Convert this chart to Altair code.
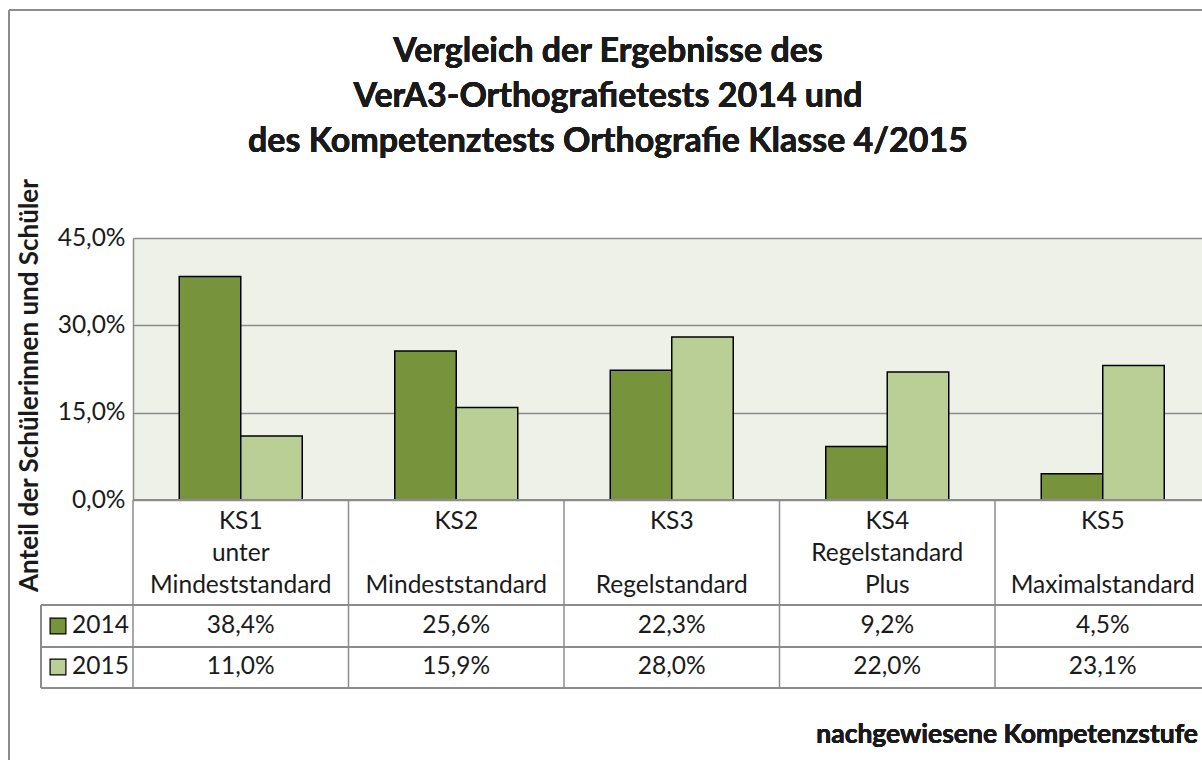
import altair as alt
import pandas as pd

categories = ["KS1", "KS2", "KS3", "KS4", "KS5"]
header_line1 = ["KS1", "KS2", "KS3", "KS4", "KS5"]
header_line2 = ["unter", "", "", "Regelstandard", ""]
header_line3 = ["Mindeststandard", "Mindeststandard", "Regelstandard", "Plus", "Maximalstandard"]
years = ["2014", "2015"]
values_2014 = [38.4, 25.6, 22.3, 9.2, 4.5]
values_2015 = [11.0, 15.9, 28.0, 22.0, 23.1]
colors = ["#77933C", "#BACF96"]

title_text = "Vergleich der Ergebnisse des\nVerA3-Orthografietests 2014 und\ndes Kompetenztests Orthografie Klasse 4/2015"
y_title = "Anteil der Schülerinnen und Schüler"
x_title = "nachgewiesene Kompetenzstufe"

rows = []
for c, v in zip(categories, values_2014):
    rows.append({"category": c, "year": "2014", "value": v})
for c, v in zip(categories, values_2015):
    rows.append({"category": c, "year": "2015", "value": v})
df = pd.DataFrame(rows)
df["label"] = df["value"].map(lambda v: f"{v:.1f}".replace(".", ",") + "%")
cats_df = pd.DataFrame({"category": categories, "l1": header_line1, "l2": header_line2, "l3": header_line3})
years_df = pd.DataFrame({"year": years})

FONT = "Lato"
GRAY = "#8c8c8c"
TXT = "#1a1a1a"
PW, PH = 1069, 262
XR = 1077.5
FS = 24.5

xscale = alt.Scale(domain=categories, range=[0, XR], paddingInner=0, paddingOuter=0)
X = alt.X("category:N", scale=xscale, axis=None)
cscale = alt.Scale(domain=years, range=colors)

bars = alt.Chart(df).mark_bar(stroke="black", strokeWidth=1.5).encode(
    x=X,
    xOffset=alt.XOffset("year:N", scale=alt.Scale(domain=years, paddingInner=0, paddingOuter=0.752)),
    y=alt.Y(
        "value:Q",
        scale=alt.Scale(domain=[0, 45]),
        axis=alt.Axis(
            values=[0, 15, 30, 45],
            labelExpr="replace(format(datum.value, '.1f'), '.', ',') + '%'",
            grid=True, gridColor=GRAY, gridWidth=1.5,
            domain=True, domainColor=GRAY, domainWidth=1.5,
            ticks=False, labelPadding=8, labelFontSize=FS, labelFont=FONT, labelColor=TXT,
            title=y_title, titleFont=FONT, titleFontSize=26, titleFontWeight="bold",
            titleColor=TXT, titleAngle=270, titleX=-104, titleY=147,
            titleAlign="center", titleBaseline="middle",
        ),
    ),
    color=alt.Color("year:N", scale=cscale, legend=None),
)

# table grid lines
vlines = alt.Chart(cats_df).mark_rule(color=GRAY, strokeWidth=1.5).encode(
    x=alt.X("category:N", scale=xscale, axis=None, bandPosition=0),
    y=alt.value(262), y2=alt.value(450),
)
hl = []
for yy, x0 in [(262, 0), (367, -92), (409, -92), (450, -92)]:
    hl.append(alt.Chart(cats_df).mark_rule(color=GRAY, strokeWidth=1.5).encode(
        x=alt.value(x0), x2=alt.value(1100), y=alt.value(yy)))
legend_vline = alt.Chart(cats_df).mark_rule(color=GRAY, strokeWidth=1.5).encode(
    x=alt.value(-92), y=alt.value(367), y2=alt.value(450))
frame_top = alt.Chart(cats_df).mark_rule(color=GRAY, strokeWidth=2).encode(
    x=alt.value(-124), x2=alt.value(1100), y=alt.value(-228))
frame_left = alt.Chart(cats_df).mark_rule(color=GRAY, strokeWidth=2).encode(
    x=alt.value(-124), y=alt.value(-228), y2=alt.value(540))

header_layers = []
for field, hy in [("l1", 284), ("l2", 316), ("l3", 348)]:
    header_layers.append(alt.Chart(cats_df).mark_text(
        font=FONT, fontSize=FS, color=TXT, baseline="middle", align="center"
    ).encode(x=X, y=alt.value(hy), text=f"{field}:N"))

row_layers = []
legend_layers = []
row_y = [388, 429]
for yr, ry in zip(years, row_y):
    row_layers.append(alt.Chart(df).transform_filter(alt.datum.year == yr).mark_text(
        font=FONT, fontSize=FS, color=TXT, baseline="middle", align="center"
    ).encode(x=X, y=alt.value(ry), text="label:N"))
    legend_layers.append(alt.Chart(years_df).transform_filter(alt.datum.year == yr).mark_square(
        size=250, stroke="black", strokeWidth=1.2, opacity=1
    ).encode(x=alt.value(-75), y=alt.value(ry), color=alt.Color("year:N", scale=cscale, legend=None)))
    legend_layers.append(alt.Chart(years_df).transform_filter(alt.datum.year == yr).mark_text(
        font=FONT, fontSize=FS, color=TXT, baseline="middle", align="left"
    ).encode(x=alt.value(-61), y=alt.value(ry), text="year:N"))

title = alt.Chart(cats_df).mark_text(
    font=FONT, fontSize=34, fontWeight="bold", color=TXT, lineBreak="\n", lineHeight=45,
    baseline="middle", align="center", text=title_text
).encode(x=alt.value(475), y=alt.value(-186))

xtitle = alt.Chart(cats_df).mark_text(
    font=FONT, fontSize=26.5, fontWeight="bold", color=TXT, baseline="middle", align="right", text=x_title
).encode(x=alt.value(1065), y=alt.value(497))

chart = alt.layer(
    bars, vlines, *hl, legend_vline, frame_top, frame_left, *header_layers, *row_layers, *legend_layers, title, xtitle
).properties(
    width=PW, height=PH,
    autosize=alt.AutoSizeParams(type="none"),
    padding={"left": 133, "top": 238, "right": 0, "bottom": 260},
    background="white",
).configure_view(fill="#EEF1E8", stroke=None)

chart.save("out.html", embed_options={"renderer": "svg", "actions": False})
